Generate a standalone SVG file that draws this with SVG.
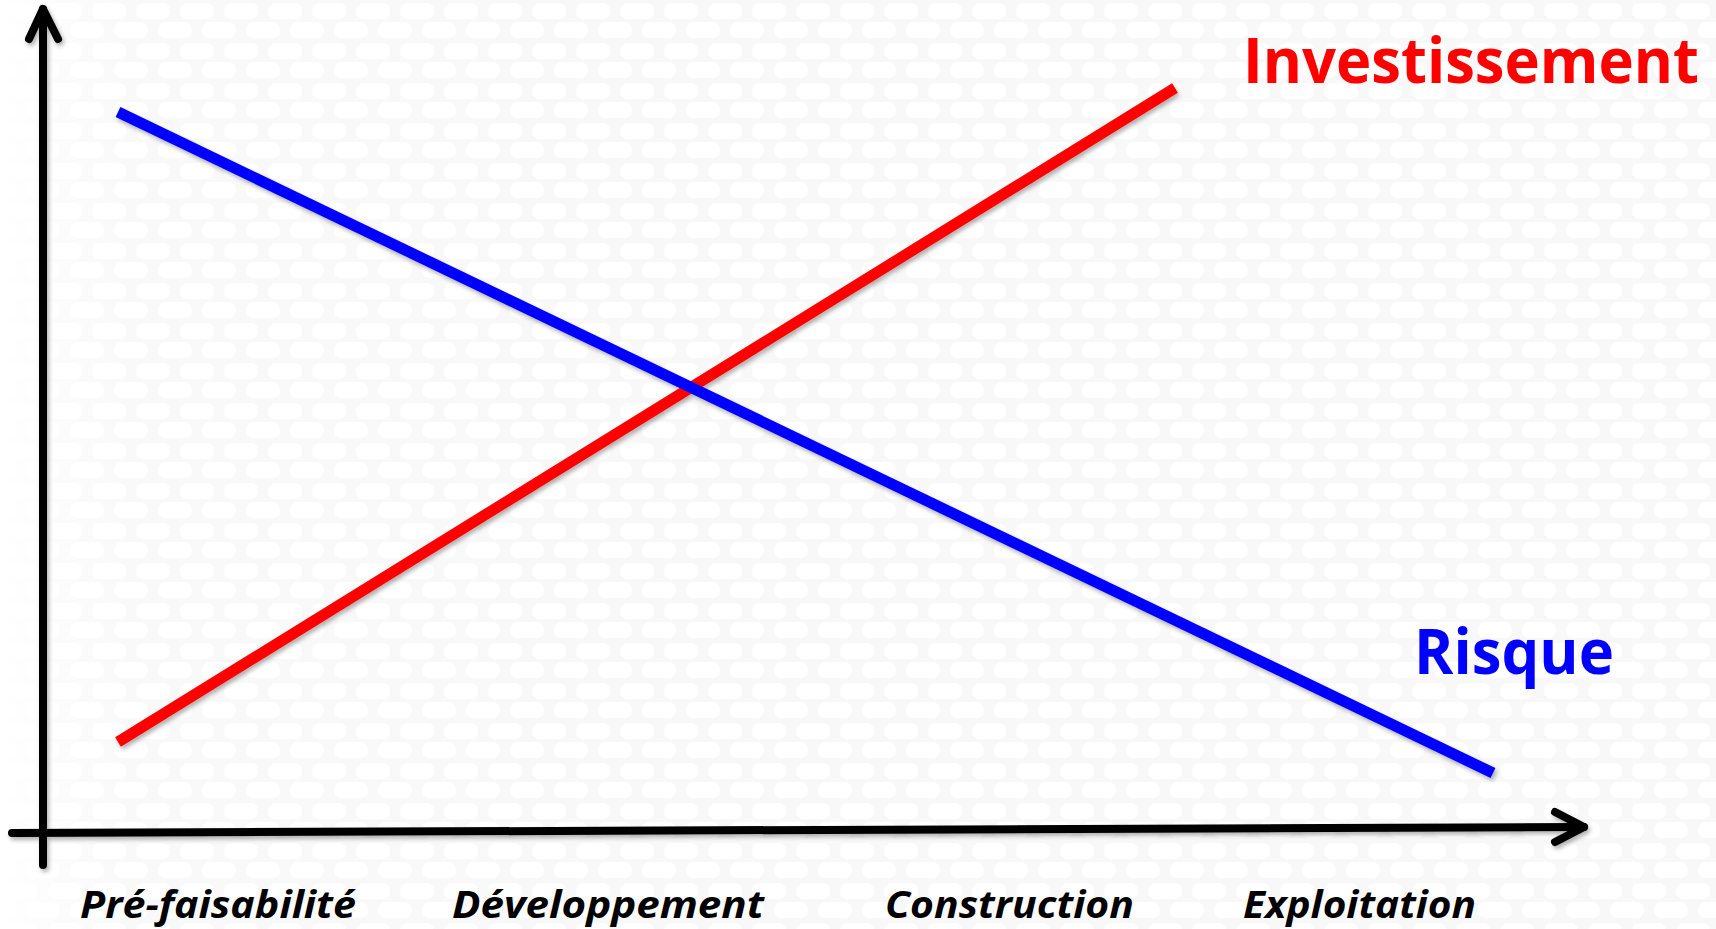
<svg xmlns="http://www.w3.org/2000/svg" width="1716" height="929" viewBox="0 0 1716 929">
  <defs>
    <pattern id="bg" width="44" height="40" patternUnits="userSpaceOnUse">
      <rect width="44" height="40" fill="#f6f6f6"/>
      <rect x="4" y="3" width="34" height="16" rx="7" fill="#ffffff"/>
      <rect x="-18" y="22" width="34" height="16" rx="7" fill="#ffffff"/>
      <rect x="26" y="22" width="34" height="16" rx="7" fill="#ffffff"/>
    </pattern>
    <linearGradient id="fade" x1="0" y1="0" x2="1" y2="0">
      <stop offset="0" stop-color="#ffffff" stop-opacity="1"/>
      <stop offset="0.08" stop-color="#ffffff" stop-opacity="0.3"/>
      <stop offset="1" stop-color="#ffffff" stop-opacity="0.2"/>
    </linearGradient>
    <filter id="sh" x="-5%" y="-5%" width="110%" height="110%">
      <feDropShadow dx="2" dy="3" stdDeviation="2" flood-color="#000" flood-opacity="0.3"/>
    </filter>
  </defs>
  <style>
    .axis { fill: none; stroke: #000; stroke-width: 8; stroke-linecap: round; stroke-linejoin: round; }
    .curve { fill: none; stroke-width: 11; stroke-linecap: butt; }
    .lbl { font-family: "Open Sans", "Liberation Sans", sans-serif; font-weight: 700; font-style: italic; font-size: 38px; fill: #000; }
    .big { font-family: "Open Sans", "Liberation Sans", sans-serif; font-weight: 700; font-size: 63px; }
  </style>
  <rect width="1716" height="929" fill="url(#bg)"/>
  <rect width="1716" height="929" fill="url(#fade)"/>

  <g id="connectors" filter="url(#sh)">
    <g id="y-axis">
      <line class="axis" x1="43" y1="865" x2="43" y2="9"/>
      <polyline class="axis" points="29,39 43,9 58,39"/>
    </g>
    <g id="x-axis">
      <line class="axis" x1="12" y1="833" x2="1584" y2="827"/>
      <polyline class="axis" points="1555,812 1584,827 1555,842"/>
    </g>
    <line id="investissement-line" class="curve" stroke="#ff0000" x1="118" y1="742" x2="1175" y2="88"/>
    <line id="risque-line" class="curve" stroke="#0000ff" x1="118" y1="112" x2="1493" y2="773"/>
  </g>

  <g id="investissement-label">
    <text class="big" x="1243" y="83" fill="#ff0000" textLength="456" lengthAdjust="spacingAndGlyphs">Investissement</text>
  </g>
  <g id="risque-label">
    <text class="big" x="1414" y="674" fill="#0000ff" textLength="200" lengthAdjust="spacingAndGlyphs">Risque</text>
  </g>

  <g id="phase-prefaisabilite">
    <text class="lbl" x="80" y="918" textLength="276" lengthAdjust="spacingAndGlyphs">Pré-faisabilité</text>
  </g>
  <g id="phase-developpement">
    <text class="lbl" x="452" y="918" textLength="312" lengthAdjust="spacingAndGlyphs">Développement</text>
  </g>
  <g id="phase-construction">
    <text class="lbl" x="885" y="918" textLength="249" lengthAdjust="spacingAndGlyphs">Construction</text>
  </g>
  <g id="phase-exploitation">
    <text class="lbl" x="1243" y="918" textLength="233" lengthAdjust="spacingAndGlyphs">Exploitation</text>
  </g>
</svg>
